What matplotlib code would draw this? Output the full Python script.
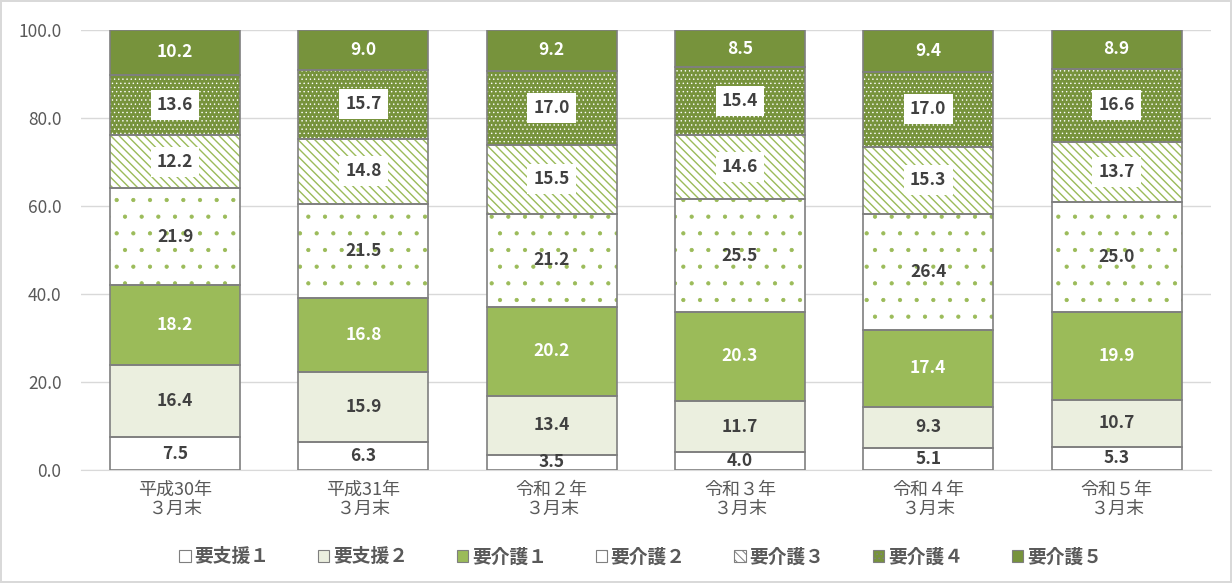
import matplotlib.pyplot as plt
import numpy as np

plt.rcParams['font.family'] = ['Noto Sans CJK JP', 'DejaVu Sans']

categories = ['平成30年\n３月末', '平成31年\n３月末', '令和２年\n３月末',
              '令和３年\n３月末', '令和４年\n３月末', '令和５年\n３月末']
series = ['要支援１', '要支援２', '要介護１', '要介護２', '要介護３', '要介護４', '要介護５']
shien1 = [7.5, 6.3, 3.5, 4.0, 5.1, 5.3]
shien2 = [16.4, 15.9, 13.4, 11.7, 9.3, 10.7]
kaigo1 = [18.2, 16.8, 20.2, 20.3, 17.4, 19.9]
kaigo2 = [21.9, 21.5, 21.2, 25.5, 26.4, 25.0]
kaigo3 = [12.2, 14.8, 15.5, 14.6, 15.3, 13.7]
kaigo4 = [13.6, 15.7, 17.0, 15.4, 17.0, 16.6]
kaigo5 = [10.2, 9.0, 9.2, 8.5, 9.4, 8.9]
values = [shien1, shien2, kaigo1, kaigo2, kaigo3, kaigo4, kaigo5]

# fill, hatch, hatch colour, hatch width, label colour, label box
styles = [
    ('white', None, None, 0, '#404040', False),
    ('#EBEFDF', None, None, 0, '#404040', False),
    ('#9BBB59', None, None, 0, 'white', False),
    ('white', '.', '#9BBB59', 0.6, '#404040', False),
    ('white', '\\\\\\\\', '#9BBB59', 1.0, '#404040', True),
    ('#77933C', '....', 'white', 0.5, '#404040', True),
    ('#77933C', None, None, 0, 'white', False),
]

fig = plt.figure(figsize=(12.32, 5.83), dpi=100)
fig.patch.set_edgecolor('#D9D9D9')
fig.patch.set_linewidth(1.5)
ax = fig.add_axes([0.0657, 0.1938, 0.917, 0.7547])

x = np.arange(len(categories))
w = 0.69
bottom = np.zeros(len(categories))
plt.rcParams['hatch.linewidth'] = 0.7
handles = []
for name, vals, (fc, hatch, hc, hw, tc, box) in zip(series, values, styles):
    vals = np.array(vals)
    if hatch:
        bars = ax.bar(x, vals, w, bottom=bottom, color=fc, hatch=hatch,
                      edgecolor=hc, linewidth=0, zorder=2)
        for p in bars:
            if hasattr(p, 'set_hatch_linewidth'):
                p.set_hatch_linewidth(hw)
    else:
        ax.bar(x, vals, w, bottom=bottom, color=fc, linewidth=0, zorder=2)
    ax.bar(x, vals, w, bottom=bottom, fill=False, edgecolor='#7F7F7F',
           linewidth=1.2, zorder=3)
    for xi, b, v in zip(x, bottom, vals):
        kw = {}
        if box:
            kw['bbox'] = dict(boxstyle='square,pad=0.35', fc='white', ec='none')
        ax.text(xi, b + v / 2, f'{v:.1f}', ha='center', va='center',
                color=tc, fontsize=12.5, fontweight='bold', zorder=4, **kw)
    h = plt.Rectangle((0, 0), 1, 1, facecolor=fc, hatch=hatch,
                      edgecolor='#7F7F7F', linewidth=0.8)
    handles.append(h)
    bottom += vals

ax.set_ylim(0, 100)
ax.set_xlim(-0.5, len(categories) - 0.5)
ax.set_yticks(np.arange(0, 101, 20))
ax.set_yticklabels([f'{t:.1f}' for t in np.arange(0, 101, 20)])
ax.set_xticks(x)
ax.set_xticklabels(categories, fontsize=13, color='#595959', linespacing=1.05)
ax.tick_params(axis='y', length=0, labelsize=12.5, labelcolor='#595959', pad=14)
ax.tick_params(axis='x', length=0, pad=8)
ax.grid(axis='y', color='#D9D9D9', linewidth=1, zorder=0)
ax.set_axisbelow(True)
for s in ['top', 'right', 'left']:
    ax.spines[s].set_visible(False)
ax.spines['bottom'].set_color('#D9D9D9')

fig.legend(handles, series, loc='center', bbox_to_anchor=(0.52, 0.045), ncol=7,
           frameon=False, handlelength=0.6, handleheight=0.6, handletextpad=0.2,
           columnspacing=2.6, prop={'size': 13.5, 'weight': 'bold'},
           labelcolor='#595959')

fig.savefig('out.png', dpi=100)
